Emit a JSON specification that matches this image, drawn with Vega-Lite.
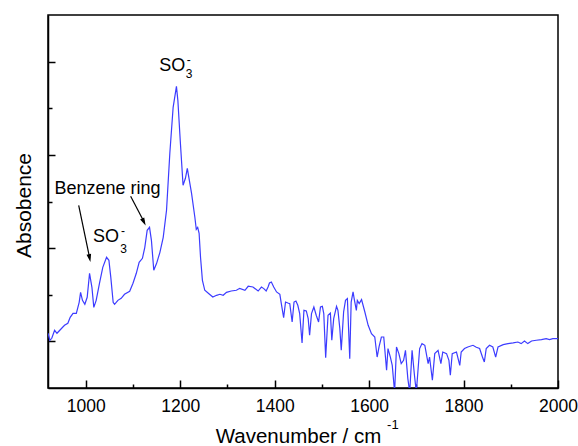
{
  "$schema": "https://vega.github.io/schema/vega-lite/v6.json",
  "width": 510,
  "height": 373,
  "autosize": {"type": "none"},
  "padding": {"left": 48, "top": 15, "right": 20, "bottom": 58},
  "background": "white",
  "config": {"view": {"stroke": "black", "strokeWidth": 1.5}, "font": "Liberation Sans"},
  "datasets": {
    "spectrum": [
      {"wavenumber": 920, "absorbance": 1.087}, {"wavenumber": 924, "absorbance": 1.012}, {"wavenumber": 928, "absorbance": 1.033},
      {"wavenumber": 934, "absorbance": 1.119}, {"wavenumber": 939, "absorbance": 1.087}, {"wavenumber": 945, "absorbance": 1.119},
      {"wavenumber": 955, "absorbance": 1.172}, {"wavenumber": 962, "absorbance": 1.194}, {"wavenumber": 967, "absorbance": 1.258},
      {"wavenumber": 973, "absorbance": 1.301}, {"wavenumber": 980, "absorbance": 1.301}, {"wavenumber": 986, "absorbance": 1.419},
      {"wavenumber": 989, "absorbance": 1.526}, {"wavenumber": 993, "absorbance": 1.44}, {"wavenumber": 998, "absorbance": 1.398},
      {"wavenumber": 1003, "absorbance": 1.473}, {"wavenumber": 1008, "absorbance": 1.73}, {"wavenumber": 1013, "absorbance": 1.58},
      {"wavenumber": 1017, "absorbance": 1.365}, {"wavenumber": 1022, "absorbance": 1.44}, {"wavenumber": 1029, "absorbance": 1.623},
      {"wavenumber": 1036, "absorbance": 1.794}, {"wavenumber": 1044, "absorbance": 1.902}, {"wavenumber": 1049, "absorbance": 1.869},
      {"wavenumber": 1053, "absorbance": 1.687}, {"wavenumber": 1058, "absorbance": 1.419}, {"wavenumber": 1061, "absorbance": 1.398},
      {"wavenumber": 1068, "absorbance": 1.44}, {"wavenumber": 1075, "absorbance": 1.462}, {"wavenumber": 1082, "absorbance": 1.505},
      {"wavenumber": 1093, "absorbance": 1.537}, {"wavenumber": 1100, "absorbance": 1.623}, {"wavenumber": 1107, "absorbance": 1.73},
      {"wavenumber": 1113, "absorbance": 1.848}, {"wavenumber": 1120, "absorbance": 1.891}, {"wavenumber": 1125, "absorbance": 2.009},
      {"wavenumber": 1130, "absorbance": 2.191}, {"wavenumber": 1135, "absorbance": 2.223}, {"wavenumber": 1139, "absorbance": 2.084},
      {"wavenumber": 1144, "absorbance": 1.762}, {"wavenumber": 1150, "absorbance": 1.837}, {"wavenumber": 1157, "absorbance": 1.955},
      {"wavenumber": 1164, "absorbance": 2.116}, {"wavenumber": 1171, "absorbance": 2.406}, {"wavenumber": 1178, "absorbance": 3.017},
      {"wavenumber": 1185, "absorbance": 3.51}, {"wavenumber": 1192, "absorbance": 3.735}, {"wavenumber": 1195, "absorbance": 3.585},
      {"wavenumber": 1200, "absorbance": 3.156}, {"wavenumber": 1206, "absorbance": 2.674}, {"wavenumber": 1211, "absorbance": 2.749},
      {"wavenumber": 1215, "absorbance": 2.856}, {"wavenumber": 1224, "absorbance": 2.588}, {"wavenumber": 1231, "absorbance": 2.331},
      {"wavenumber": 1234, "absorbance": 2.202}, {"wavenumber": 1237, "absorbance": 2.223}, {"wavenumber": 1240, "absorbance": 2.159},
      {"wavenumber": 1243, "absorbance": 1.902}, {"wavenumber": 1247, "absorbance": 1.655}, {"wavenumber": 1252, "absorbance": 1.548},
      {"wavenumber": 1262, "absorbance": 1.505}, {"wavenumber": 1269, "absorbance": 1.476}, {"wavenumber": 1277, "absorbance": 1.494},
      {"wavenumber": 1284, "absorbance": 1.505}, {"wavenumber": 1291, "absorbance": 1.494}, {"wavenumber": 1298, "absorbance": 1.526},
      {"wavenumber": 1308, "absorbance": 1.54}, {"wavenumber": 1319, "absorbance": 1.548}, {"wavenumber": 1326, "absorbance": 1.569},
      {"wavenumber": 1337, "absorbance": 1.548}, {"wavenumber": 1344, "absorbance": 1.591}, {"wavenumber": 1354, "absorbance": 1.583},
      {"wavenumber": 1365, "absorbance": 1.54}, {"wavenumber": 1372, "absorbance": 1.583}, {"wavenumber": 1377, "absorbance": 1.566},
      {"wavenumber": 1382, "absorbance": 1.54}, {"wavenumber": 1386, "absorbance": 1.583}, {"wavenumber": 1389, "absorbance": 1.626},
      {"wavenumber": 1393, "absorbance": 1.637}, {"wavenumber": 1398, "absorbance": 1.583}, {"wavenumber": 1404, "absorbance": 1.53},
      {"wavenumber": 1411, "absorbance": 1.505}, {"wavenumber": 1414, "absorbance": 1.408}, {"wavenumber": 1419, "absorbance": 1.255},
      {"wavenumber": 1423, "absorbance": 1.422}, {"wavenumber": 1428, "absorbance": 1.412}, {"wavenumber": 1432, "absorbance": 1.405},
      {"wavenumber": 1437, "absorbance": 1.208}, {"wavenumber": 1441, "absorbance": 1.422}, {"wavenumber": 1445, "absorbance": 1.433},
      {"wavenumber": 1449, "absorbance": 1.387}, {"wavenumber": 1453, "absorbance": 1.298}, {"wavenumber": 1458, "absorbance": 0.983},
      {"wavenumber": 1462, "absorbance": 1.333}, {"wavenumber": 1467, "absorbance": 1.326}, {"wavenumber": 1471, "absorbance": 1.244},
      {"wavenumber": 1474, "absorbance": 1.065}, {"wavenumber": 1478, "absorbance": 1.298}, {"wavenumber": 1483, "absorbance": 1.369},
      {"wavenumber": 1488, "absorbance": 1.28}, {"wavenumber": 1493, "absorbance": 1.208}, {"wavenumber": 1497, "absorbance": 1.369},
      {"wavenumber": 1501, "absorbance": 1.376}, {"wavenumber": 1504, "absorbance": 1.298}, {"wavenumber": 1508, "absorbance": 0.826},
      {"wavenumber": 1513, "absorbance": 1.28}, {"wavenumber": 1518, "absorbance": 1.304}, {"wavenumber": 1521, "absorbance": 1.012},
      {"wavenumber": 1525, "absorbance": 1.244}, {"wavenumber": 1531, "absorbance": 1.376}, {"wavenumber": 1534, "absorbance": 1.333},
      {"wavenumber": 1538, "absorbance": 1.137}, {"wavenumber": 1541, "absorbance": 0.904}, {"wavenumber": 1546, "absorbance": 1.315},
      {"wavenumber": 1550, "absorbance": 1.44}, {"wavenumber": 1554, "absorbance": 1.459}, {"wavenumber": 1559, "absorbance": 0.815},
      {"wavenumber": 1562, "absorbance": 1.422}, {"wavenumber": 1566, "absorbance": 1.53}, {"wavenumber": 1569, "absorbance": 1.44},
      {"wavenumber": 1573, "absorbance": 1.333}, {"wavenumber": 1575, "absorbance": 1.44}, {"wavenumber": 1579, "absorbance": 1.405},
      {"wavenumber": 1584, "absorbance": 1.448}, {"wavenumber": 1591, "absorbance": 1.315}, {"wavenumber": 1598, "absorbance": 1.172},
      {"wavenumber": 1605, "absorbance": 1.083}, {"wavenumber": 1612, "absorbance": 1.047}, {"wavenumber": 1617, "absorbance": 0.832},
      {"wavenumber": 1621, "absorbance": 0.94}, {"wavenumber": 1626, "absorbance": 1.047}, {"wavenumber": 1631, "absorbance": 1.047},
      {"wavenumber": 1637, "absorbance": 0.69}, {"wavenumber": 1640, "absorbance": 0.923}, {"wavenumber": 1645, "absorbance": 0.832},
      {"wavenumber": 1649, "absorbance": 0.743}, {"wavenumber": 1654, "absorbance": 0.454}, {"wavenumber": 1658, "absorbance": 0.94},
      {"wavenumber": 1663, "absorbance": 0.869}, {"wavenumber": 1668, "absorbance": 0.762}, {"wavenumber": 1673, "absorbance": 0.797},
      {"wavenumber": 1677, "absorbance": 0.904}, {"wavenumber": 1682, "absorbance": 0.601}, {"wavenumber": 1686, "absorbance": 0.454},
      {"wavenumber": 1691, "absorbance": 0.904}, {"wavenumber": 1696, "absorbance": 0.636}, {"wavenumber": 1700, "absorbance": 0.454},
      {"wavenumber": 1707, "absorbance": 0.923}, {"wavenumber": 1712, "absorbance": 0.976}, {"wavenumber": 1718, "absorbance": 0.958},
      {"wavenumber": 1725, "absorbance": 0.762}, {"wavenumber": 1728, "absorbance": 0.832}, {"wavenumber": 1734, "absorbance": 0.583},
      {"wavenumber": 1739, "absorbance": 0.869}, {"wavenumber": 1746, "absorbance": 0.904}, {"wavenumber": 1752, "absorbance": 0.762},
      {"wavenumber": 1756, "absorbance": 0.886}, {"wavenumber": 1764, "absorbance": 0.869}, {"wavenumber": 1769, "absorbance": 0.797},
      {"wavenumber": 1772, "absorbance": 0.636}, {"wavenumber": 1776, "absorbance": 0.869}, {"wavenumber": 1785, "absorbance": 0.886},
      {"wavenumber": 1792, "absorbance": 0.743}, {"wavenumber": 1795, "absorbance": 0.886}, {"wavenumber": 1802, "absorbance": 0.923},
      {"wavenumber": 1809, "absorbance": 0.94}, {"wavenumber": 1820, "absorbance": 0.958}, {"wavenumber": 1827, "absorbance": 0.937},
      {"wavenumber": 1834, "absorbance": 0.923}, {"wavenumber": 1840, "absorbance": 0.832}, {"wavenumber": 1844, "absorbance": 0.779},
      {"wavenumber": 1848, "absorbance": 0.923}, {"wavenumber": 1855, "absorbance": 0.958}, {"wavenumber": 1862, "absorbance": 0.94},
      {"wavenumber": 1868, "absorbance": 0.832}, {"wavenumber": 1873, "absorbance": 0.94}, {"wavenumber": 1884, "absorbance": 0.965},
      {"wavenumber": 1894, "absorbance": 0.976}, {"wavenumber": 1905, "absorbance": 0.983}, {"wavenumber": 1915, "absorbance": 0.993},
      {"wavenumber": 1922, "absorbance": 0.976}, {"wavenumber": 1929, "absorbance": 1.004}, {"wavenumber": 1936, "absorbance": 0.976},
      {"wavenumber": 1944, "absorbance": 1.004}, {"wavenumber": 1954, "absorbance": 1.012}, {"wavenumber": 1965, "absorbance": 1.019},
      {"wavenumber": 1975, "absorbance": 1.03}, {"wavenumber": 1982, "absorbance": 1.019}, {"wavenumber": 1989, "absorbance": 1.03},
      {"wavenumber": 2000, "absorbance": 1.03}
    ]
  },
  "layer": [
    {
      "data": {"name": "spectrum"},
      "mark": {"type": "line", "color": "#3c3cff", "strokeWidth": 1.2, "clip": true},
      "encoding": {
        "x": {
          "field": "wavenumber", "type": "quantitative",
          "scale": {"domain": [920, 2000], "nice": false, "zero": false},
          "axis": {
            "values": [1000, 1100, 1200, 1300, 1400, 1500, 1600, 1700, 1800, 1900, 2000],
            "format": "d",
            "labelExpr": "datum.value % 200 === 0 ? datum.label : ''",
            "labelOverlap": false, "labelFlush": false,
            "tickSize": {"condition": {"test": "datum.value % 200 === 0", "value": -8}, "value": -4},
            "tickColor": "black", "tickWidth": 1.5,
            "domainColor": "black", "domainWidth": 1.5,
            "labelFontSize": 17.5, "labelColor": "black", "labelPadding": 17,
            "grid": false,
            "title": "Wavenumber / cm",
            "titleFontSize": 20.5, "titleFontWeight": "normal", "titleColor": "black",
            "titleX": 250, "titleY": 54.5, "titleBaseline": "alphabetic"
          }
        },
        "y": {
          "field": "absorbance", "type": "quantitative",
          "scale": {"domain": [0.5, 4.5], "nice": false, "zero": false},
          "axis": {
            "values": [1, 1.5, 2, 2.5, 3, 3.5, 4],
            "labels": false,
            "tickSize": {"condition": {"test": "datum.value % 1 === 0", "value": -7}, "value": -4},
            "tickColor": "black", "tickWidth": 1.5,
            "domainColor": "black", "domainWidth": 1.5,
            "grid": false,
            "title": "Absobence",
            "titleFontSize": 21, "titleFontWeight": "normal", "titleColor": "black",
            "titleX": -18, "titleY": 190, "titleBaseline": "alphabetic"
          }
        }
      }
    },
    {
      "data": {"values": [{}]},
      "mark": {"type": "text", "text": "-1", "fontSize": 13, "color": "black", "align": "left", "baseline": "middle", "clip": false},
      "encoding": {"x": {"datum": 1638, "type": "quantitative"}, "y": {"datum": 0.1, "type": "quantitative"}}
    },
    {
      "data": {"values": [{}]},
      "mark": {"type": "text", "text": "Benzene ring", "fontSize": 18, "color": "black", "align": "center", "baseline": "middle"},
      "encoding": {"x": {"datum": 1046, "type": "quantitative"}, "y": {"datum": 2.636, "type": "quantitative"}}
    },
    {
      "data": {"values": [{}]},
      "mark": {"type": "text", "text": "SO", "fontSize": 18, "color": "black", "align": "center", "baseline": "middle"},
      "encoding": {"x": {"datum": 1183, "type": "quantitative"}, "y": {"datum": 3.95, "type": "quantitative"}}
    },
    {
      "data": {"values": [{}]},
      "mark": {"type": "text", "text": "3", "fontSize": 12, "color": "black", "align": "center", "baseline": "middle"},
      "encoding": {"x": {"datum": 1219, "type": "quantitative"}, "y": {"datum": 3.864, "type": "quantitative"}}
    },
    {
      "data": {"values": [{}]},
      "mark": {"type": "text", "text": "-", "fontSize": 12, "color": "black", "align": "center", "baseline": "middle"},
      "encoding": {"x": {"datum": 1218, "type": "quantitative"}, "y": {"datum": 4.014, "type": "quantitative"}}
    },
    {
      "data": {"values": [{}]},
      "mark": {"type": "text", "text": "SO", "fontSize": 18, "color": "black", "align": "center", "baseline": "middle"},
      "encoding": {"x": {"datum": 1043, "type": "quantitative"}, "y": {"datum": 2.119, "type": "quantitative"}}
    },
    {
      "data": {"values": [{}]},
      "mark": {"type": "text", "text": "3", "fontSize": 12, "color": "black", "align": "center", "baseline": "middle"},
      "encoding": {"x": {"datum": 1080, "type": "quantitative"}, "y": {"datum": 1.987, "type": "quantitative"}}
    },
    {
      "data": {"values": [{}]},
      "mark": {"type": "text", "text": "-", "fontSize": 12, "color": "black", "align": "center", "baseline": "middle"},
      "encoding": {"x": {"datum": 1079, "type": "quantitative"}, "y": {"datum": 2.18, "type": "quantitative"}}
    },
    {
      "data": {"values": [{}]},
      "mark": {"type": "rule", "color": "black", "strokeWidth": 1.2},
      "encoding": {
        "x": {"datum": 985, "type": "quantitative"}, "y": {"datum": 2.459, "type": "quantitative"},
        "x2": {"datum": 1008}, "y2": {"datum": 1.9}
      }
    },
    {
      "data": {"values": [{}]},
      "mark": {"type": "rule", "color": "black", "strokeWidth": 1.2},
      "encoding": {
        "x": {"datum": 1095, "type": "quantitative"}, "y": {"datum": 2.556, "type": "quantitative"},
        "x2": {"datum": 1123}, "y2": {"datum": 2.285}
      }
    },
    {
      "data": {"values": [{}]},
      "mark": {"type": "point", "shape": "M-0.6,-1L0,1L0.6,-1Z", "filled": true, "size": 60, "angle": 348, "color": "black", "opacity": 1},
      "encoding": {"x": {"datum": 1008.1, "type": "quantitative"}, "y": {"datum": 1.893, "type": "quantitative"}}
    },
    {
      "data": {"values": [{}]},
      "mark": {"type": "point", "shape": "M-0.6,-1L0,1L0.6,-1Z", "filled": true, "size": 60, "angle": 333, "color": "black", "opacity": 1},
      "encoding": {"x": {"datum": 1123.1, "type": "quantitative"}, "y": {"datum": 2.28, "type": "quantitative"}}
    }
  ]
}
